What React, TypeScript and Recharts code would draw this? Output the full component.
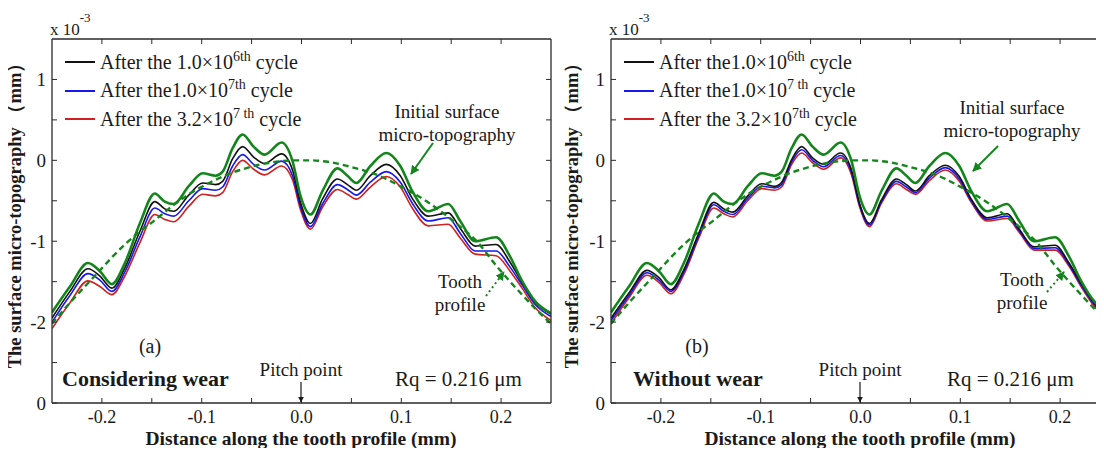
import React from 'react';
import { LineChart, Line, XAxis, YAxis, Legend } from 'recharts';

// distance along the tooth profile (mm), shared by every curve
const DIST = [
  -0.25, -0.232, -0.214, -0.202, -0.19, -0.177, -0.162, -0.147, -0.137, -0.128,
  -0.113, -0.099, -0.086, -0.079, -0.069, -0.059, -0.048, -0.037, -0.02, -0.009,
  -0.001, 0.009, 0.021, 0.036, 0.046, 0.055, 0.069, 0.085, 0.099, 0.111,
  0.127, 0.147, 0.159, 0.174, 0.195, 0.209, 0.221, 0.234, 0.25,
];

// initial surface micro-topography (x 1e-3 mm)
const INITIAL = [
  -1.88, -1.56, -1.27, -1.37, -1.53, -1.27, -0.78, -0.41, -0.51, -0.54,
  -0.32, -0.16, -0.19, -0.14, 0.15, 0.32, 0.17, 0.07, 0.22, -0.01,
  -0.44, -0.67, -0.38, -0.1, -0.19, -0.28, -0.07, 0.09, -0.07, -0.38,
  -0.63, -0.54, -0.75, -1.0, -0.95, -1.19, -1.49, -1.74, -1.89,
];

// nominal tooth profile (dashed)
const TOOTH = [
  -2.02, -1.76, -1.52, -1.36, -1.2, -1.04, -0.88, -0.74, -0.64, -0.55,
  -0.42, -0.32, -0.24, -0.2, -0.15, -0.11, -0.07, -0.04, -0.01, 0.0,
  0.0, 0.0, -0.01, -0.04, -0.07, -0.1, -0.15, -0.23, -0.32, -0.4,
  -0.52, -0.7, -0.82, -0.98, -1.3, -1.5, -1.66, -1.83, -2.02,
];

// (a) considering wear
const WEAR_1E6 = [
  -1.95, -1.62, -1.34, -1.43, -1.58, -1.33, -0.88, -0.51, -0.6, -0.63,
  -0.43, -0.28, -0.3, -0.26, 0.02, 0.17, 0.04, -0.04, 0.08, -0.12,
  -0.52, -0.78, -0.48, -0.23, -0.3, -0.37, -0.19, -0.05, -0.19, -0.47,
  -0.69, -0.65, -0.84, -1.06, -1.04, -1.26, -1.51, -1.75, -1.9,
];
const WEAR_1E7 = [
  -2.0, -1.67, -1.4, -1.48, -1.62, -1.38, -0.95, -0.59, -0.66, -0.69,
  -0.5, -0.35, -0.37, -0.33, -0.07, 0.07, -0.05, -0.12, -0.01, -0.19,
  -0.57, -0.82, -0.54, -0.3, -0.36, -0.43, -0.27, -0.14, -0.27, -0.53,
  -0.75, -0.71, -0.9, -1.12, -1.12, -1.32, -1.54, -1.78, -1.93,
];
const WEAR_32E7 = [
  -2.08, -1.76, -1.49, -1.56, -1.66, -1.43, -1.02, -0.67, -0.73, -0.76,
  -0.57, -0.42, -0.44, -0.4, -0.14, 0.0, -0.11, -0.18, -0.07, -0.24,
  -0.61, -0.85, -0.58, -0.36, -0.42, -0.48, -0.33, -0.2, -0.33, -0.59,
  -0.81, -0.79, -0.96, -1.16, -1.18, -1.37, -1.58, -1.82, -1.98,
];

// (b) without wear
const NOWEAR_1E6 = [
  -1.95, -1.64, -1.36, -1.45, -1.6, -1.35, -0.9, -0.52, -0.6, -0.64,
  -0.44, -0.29, -0.32, -0.27, 0.01, 0.17, 0.03, -0.05, 0.09, -0.12,
  -0.53, -0.78, -0.49, -0.23, -0.3, -0.38, -0.19, -0.06, -0.2, -0.48,
  -0.71, -0.66, -0.85, -1.07, -1.05, -1.27, -1.52, -1.76, -1.92,
];
const NOWEAR_1E7 = [
  -1.98, -1.67, -1.39, -1.48, -1.62, -1.38, -0.93, -0.55, -0.63, -0.67,
  -0.47, -0.32, -0.34, -0.3, -0.02, 0.13, 0.0, -0.08, 0.06, -0.15,
  -0.55, -0.8, -0.51, -0.26, -0.33, -0.4, -0.22, -0.09, -0.23, -0.5,
  -0.73, -0.69, -0.87, -1.09, -1.08, -1.29, -1.54, -1.78, -1.95,
];
const NOWEAR_32E7 = [
  -2.02, -1.7, -1.42, -1.51, -1.65, -1.41, -0.96, -0.59, -0.66, -0.7,
  -0.5, -0.35, -0.37, -0.33, -0.05, 0.09, -0.03, -0.11, 0.03, -0.18,
  -0.57, -0.82, -0.53, -0.29, -0.36, -0.42, -0.25, -0.12, -0.26, -0.52,
  -0.75, -0.72, -0.89, -1.11, -1.11, -1.31, -1.56, -1.8, -1.99,
];

// axis ticks
const X_TICKS = [-0.2, -0.15, -0.1, -0.05, 0, 0.05, 0.1, 0.15, 0.2];
const X_LABEL_AT = [-0.2, -0.1, 0, 0.1, 0.2];
const X_LABELS = ['-0.2', '-0.1', '0.0', '0.1', '0.2'];
const Y_TICKS = [-2.5, -2, -1.5, -1, -0.5, 0, 0.5, 1];
const Y_LABEL_AT = [-3, -2, -1, 0, 1];
const Y_LABELS = ['0', '-2', '-1', '0', '1'];

const SERIF = "'Liberation Serif', 'Times New Roman', Times, serif";
const INK = '#1a1a1a';
const AXIS = '#2a2a2a';
const GREEN = '#13861b';
const BLUE = '#1616ee';
const RED = '#d21f1f';

const W = 560;
const H = 456;
const MARGIN = { top: 38, right: 8, bottom: 23, left: 12 };

const near = (list: number[], v: number) => list.findIndex((t) => Math.abs(t - v) < 1e-9);

const BottomTick = (props: any) => {
  const { x, y, payload } = props;
  const i = near(X_LABEL_AT, payload.value);
  return (
    <g>
      <line x1={x} y1={y} x2={x} y2={y - 5} stroke={AXIS} strokeWidth={1} />
      {i >= 0 && (
        <text x={x} y={y + 20} textAnchor="middle" fontFamily={SERIF} fontSize={18} fill={INK}>
          {X_LABELS[i]}
        </text>
      )}
    </g>
  );
};

const TopTick = (props: any) => {
  const { x, y } = props;
  return <line x1={x} y1={y} x2={x} y2={y + 5} stroke={AXIS} strokeWidth={1} />;
};

const LeftTick = (props: any) => {
  const { x, y, payload } = props;
  const i = near(Y_LABEL_AT, payload.value);
  return (
    <g>
      <line x1={x} y1={y} x2={x + 5} y2={y} stroke={AXIS} strokeWidth={1} />
      {i >= 0 && (
        <text x={x - 6} y={y + 7} textAnchor="end" fontFamily={SERIF} fontSize={19} fill={INK}>
          {Y_LABELS[i]}
        </text>
      )}
    </g>
  );
};

const RightTick = (props: any) => {
  const { x, y } = props;
  return <line x1={x} y1={y} x2={x - 5} y2={y} stroke={AXIS} strokeWidth={1} />;
};

type LegendRow = { color: string; lead: string; sup: string };

const legendContent = (rows: LegendRow[]) => () => (
  <div style={{ fontFamily: SERIF, fontSize: 20, color: INK }}>
    {rows.map((r) => (
      <div key={r.color} style={{ display: 'flex', alignItems: 'center', height: 28.5, whiteSpace: 'nowrap' }}>
        <span style={{ display: 'inline-block', width: 30, borderTop: `2.5px solid ${r.color}`, marginRight: 5 }} />
        <span>
          {r.lead}
          <sup style={{ fontSize: 14, lineHeight: 0 }}>{r.sup}</sup> cycle
        </span>
      </div>
    ))}
  </div>
);

type Notes = {
  id: string;
  tag: string;
  tagX: number;
  caption: string;
  captionX: number;
  rqX: number;
  initX: number;
  initY: number;
  initArrow: number[];
  toothX: number;
  toothY: number;
  toothArrow: number[];
};

const Overlay = ({ n }: { n: Notes }) => (
  <svg width={W} height={H} style={{ position: 'absolute', left: 0, top: 0, pointerEvents: 'none' }}>
    <defs>
      <marker id={`g-${n.id}`} viewBox="0 0 10 10" refX="9" refY="5" markerWidth="4.5" markerHeight="4.5" orient="auto">
        <path d="M0,0 L10,5 L0,10 z" fill={GREEN} />
      </marker>
      <marker id={`k-${n.id}`} viewBox="0 0 10 10" refX="9" refY="5" markerWidth="5" markerHeight="5" orient="auto">
        <path d="M0,0 L10,5 L0,10 z" fill={INK} />
      </marker>
    </defs>
    <g fontFamily={SERIF} fill={INK}>
      <text x={50} y={35} fontSize={17}>
        x 10
        <tspan dy={-13} fontSize={13}>-3</tspan>
      </text>
      <text
        transform={`translate(${n.id === 'a' ? 21 : 19}, 211) rotate(-90)`}
        textAnchor="middle"
        fontSize={18.5}
        fontWeight="bold"
      >
        The surface micro-topography （mm）
      </text>
      <text x={301} y={445} textAnchor="middle" fontSize={19.5} fontWeight="bold">
        Distance along the tooth profile (mm)
      </text>
      <text x={n.tagX} y={353} textAnchor="middle" fontSize={20}>{n.tag}</text>
      <text x={n.captionX} y={386} fontSize={22} fontWeight="bold">{n.caption}</text>
      <text x={n.rqX} y={386} fontSize={21}>Rq = 0.216 μm</text>
      <text x={301} y={376} textAnchor="middle" fontSize={19}>Pitch point</text>
      <text x={n.initX} y={n.initY} textAnchor="middle" fontSize={19}>Initial surface</text>
      <text x={n.initX} y={n.initY + 23} textAnchor="middle" fontSize={19}>micro-topography</text>
      <text x={n.toothX} y={n.toothY} textAnchor="middle" fontSize={19}>Tooth</text>
      <text x={n.toothX} y={n.toothY + 23} textAnchor="middle" fontSize={19}>profile</text>
    </g>
    <line x1={301} y1={382} x2={301} y2={402} stroke={INK} strokeWidth={1.2} markerEnd={`url(#k-${n.id})`} />
    <line
      x1={n.initArrow[0]} y1={n.initArrow[1]} x2={n.initArrow[2]} y2={n.initArrow[3]}
      stroke={GREEN} strokeWidth={2} markerEnd={`url(#g-${n.id})`}
    />
    <line
      x1={n.toothArrow[0]} y1={n.toothArrow[1]} x2={n.toothArrow[2]} y2={n.toothArrow[3]}
      stroke={GREEN} strokeWidth={2} strokeDasharray="2 3" markerEnd={`url(#g-${n.id})`}
    />
  </svg>
);

type PanelProps = {
  left: number;
  c1: number[];
  c2: number[];
  c3: number[];
  legend: LegendRow[];
  notes: Notes;
};

const Panel = ({ left, c1, c2, c3, legend, notes }: PanelProps) => {
  const rows = DIST.map((x, i) => ({
    x,
    initial: INITIAL[i],
    tooth: TOOTH[i],
    c1: c1[i],
    c2: c2[i],
    c3: c3[i],
  }));
  return (
    <div style={{ position: 'absolute', left, top: 0, width: W, height: H }}>
      <LineChart width={W} height={H} data={rows} margin={MARGIN}>
        <XAxis
          dataKey="x" type="number" domain={[-0.25, 0.25]} allowDataOverflow
          ticks={X_TICKS} tickSize={0} tickMargin={0} height={30}
          tick={<BottomTick />} tickLine={false} axisLine={{ stroke: AXIS, strokeWidth: 1.3 }}
        />
        <XAxis
          xAxisId="top" orientation="top" dataKey="x" type="number" domain={[-0.25, 0.25]} allowDataOverflow
          ticks={X_TICKS} tickSize={0} tickMargin={0} height={1}
          tick={<TopTick />} tickLine={false} axisLine={{ stroke: AXIS, strokeWidth: 1.3 }}
        />
        <YAxis
          type="number" domain={[-3, 1.5]} allowDataOverflow
          ticks={[-3, ...Y_TICKS]} tickSize={0} tickMargin={0} width={40}
          tick={<LeftTick />} tickLine={false} axisLine={{ stroke: AXIS, strokeWidth: 1.3 }}
        />
        <YAxis
          yAxisId="right" orientation="right" type="number" domain={[-3, 1.5]} allowDataOverflow
          ticks={Y_TICKS} tickSize={0} tickMargin={0} width={1}
          tick={<RightTick />} tickLine={false} axisLine={{ stroke: AXIS, strokeWidth: 1.3 }}
        />
        <Legend
          layout="vertical" align="center" verticalAlign="middle"
          wrapperStyle={{ left: 65, top: 48, width: 'auto' }}
          content={legendContent(legend)}
        />
        <Line dataKey="c3" type="monotone" stroke={RED} strokeWidth={1.6} dot={false} isAnimationActive={false} />
        <Line dataKey="c2" type="monotone" stroke={BLUE} strokeWidth={1.6} dot={false} isAnimationActive={false} />
        <Line dataKey="c1" type="monotone" stroke="#111" strokeWidth={1.6} dot={false} isAnimationActive={false} />
        <Line dataKey="initial" type="monotone" stroke={GREEN} strokeWidth={2.6} dot={false} isAnimationActive={false} />
        <Line
          dataKey="tooth" type="monotone" stroke={GREEN} strokeWidth={2.4} strokeDasharray="6 4"
          dot={false} isAnimationActive={false}
        />
      </LineChart>
      <Overlay n={notes} />
    </div>
  );
};

const LEGEND_A: LegendRow[] = [
  { color: '#111', lead: 'After the 1.0×10', sup: '6th' },
  { color: BLUE, lead: 'After the1.0×10', sup: '7th' },
  { color: RED, lead: 'After the 3.2×10', sup: '7 th' },
];

const LEGEND_B: LegendRow[] = [
  { color: '#111', lead: 'After the1.0×10', sup: '6th' },
  { color: BLUE, lead: 'After the1.0×10', sup: '7 th' },
  { color: RED, lead: 'After the 3.2×10', sup: '7th' },
];

const NOTES_A: Notes = {
  id: 'a', tag: '(a)', tagX: 150, caption: 'Considering wear', captionX: 62, rqX: 395,
  initX: 447, initY: 118, initArrow: [433, 143, 411, 174],
  toothX: 460, toothY: 288, toothArrow: [486, 296, 504, 272],
};

const NOTES_B: Notes = {
  id: 'b', tag: '(b)', tagX: 138, caption: 'Without wear', captionX: 74, rqX: 388,
  initX: 453, initY: 114, initArrow: [439, 146, 414, 171],
  toothX: 463, toothY: 286, toothArrow: [488, 292, 505, 272],
};

export default function App() {
  return (
    <div style={{ position: 'relative', width: 1104, height: 456, margin: -8, overflow: 'hidden', background: '#fff' }}>
      <Panel left={0} c1={WEAR_1E6} c2={WEAR_1E7} c3={WEAR_32E7} legend={LEGEND_A} notes={NOTES_A} />
      <Panel left={559} c1={NOWEAR_1E6} c2={NOWEAR_1E7} c3={NOWEAR_32E7} legend={LEGEND_B} notes={NOTES_B} />
    </div>
  );
}
